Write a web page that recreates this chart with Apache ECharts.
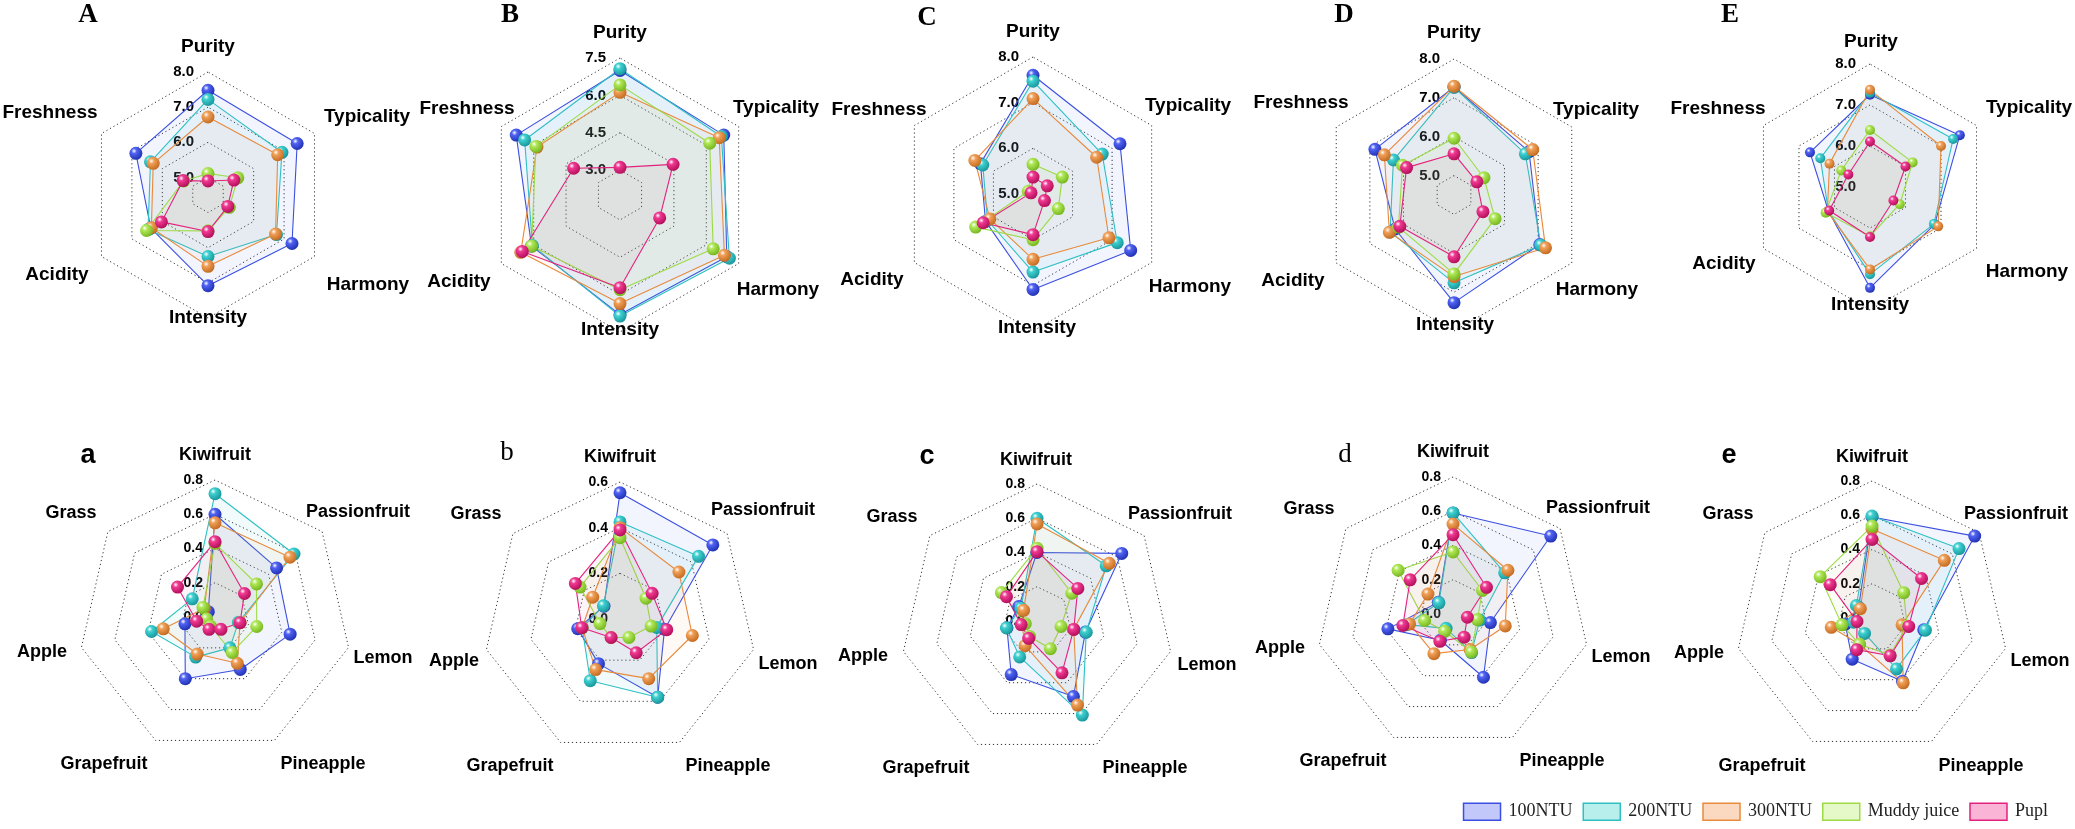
<!DOCTYPE html>
<html><head><meta charset="utf-8">
<script src="https://cdn.jsdelivr.net/npm/echarts@6/dist/echarts.min.js"></script>
<style>html,body{margin:0;padding:0;background:#fff}#c{width:2075px;height:829px}</style>
</head><body><div id="c"></div>
<script>
// ---------------- DATA ----------------
const groups = ['100NTU', '200NTU', '300NTU', 'Muddy juice', 'Pupl'];
const sensoryAttrs = ['Purity', 'Typicality', 'Harmony', 'Intensity', 'Acidity', 'Freshness'];
const aromaAttrs = ['Kiwifruit', 'Passionfruit', 'Lemon', 'Pineapple', 'Grapefruit', 'Apple', 'Grass'];
const panelLetters = ['A', 'B', 'C', 'D', 'E', 'a', 'b', 'c', 'd', 'e'];

// tick labels
const ticksA = [5.0, 6.0, 7.0, 8.0];
const ticksB = [3.0, 4.5, 6.0, 7.5];
const ticksC = [5.0, 6.0, 7.0, 8.0];
const ticksD = [5.0, 6.0, 7.0, 8.0];
const ticksE = [5.0, 6.0, 7.0, 8.0];
const ticks08 = [0.0, 0.2, 0.4, 0.6, 0.8];
const ticks06 = [0.0, 0.2, 0.4, 0.6];

// sensory scores, clockwise from Purity
const A_100 = [7.48, 7.43, 7.26, 7.08, 6.38, 6.87];
const A_200 = [7.22, 6.93, 6.75, 6.25, 6.47, 6.39];
const A_300 = [6.72, 6.79, 6.72, 6.53, 6.36, 6.30];
const A_mud = [5.11, 5.48, 5.20, 5.52, 6.52, 5.30];
const A_pupl = [4.90, 5.35, 5.15, 5.54, 6.03, 5.32];

const B_100 = [7.00, 6.81, 6.95, 6.80, 6.10, 6.81];
const B_200 = [7.07, 6.70, 7.07, 6.86, 6.06, 6.42];
const B_300 = [6.12, 6.60, 6.84, 6.36, 6.60, 5.85];
const B_mud = [6.42, 6.16, 6.32, 5.80, 6.10, 5.90];
const B_pupl = [3.11, 4.46, 3.84, 5.72, 6.53, 4.15];

const C_100 = [7.60, 7.20, 7.47, 7.09, 6.20, 6.33];
const C_200 = [7.47, 6.75, 7.13, 6.71, 6.15, 6.27];
const C_300 = [7.09, 6.61, 6.92, 6.43, 6.09, 6.47];
const C_mud = [5.65, 5.74, 5.64, 6.00, 6.45, 5.12];
const C_pupl = [5.37, 5.36, 5.29, 5.89, 6.26, 5.05];

const D_100 = [7.28, 6.73, 7.05, 7.27, 6.25, 6.85];
const D_200 = [7.27, 6.62, 7.08, 6.76, 6.40, 6.30];
const D_300 = [7.30, 6.84, 7.22, 6.60, 6.42, 6.57];
const D_mud = [5.96, 5.39, 5.72, 6.53, 6.15, 6.03];
const D_pupl = [5.56, 5.18, 5.36, 6.09, 6.11, 5.91];

const E_100 = [7.25, 7.53, 6.82, 7.46, 6.17, 6.69];
const E_200 = [7.30, 7.34, 6.80, 7.13, 6.17, 6.40];
const E_300 = [7.37, 7.00, 6.92, 7.01, 6.20, 6.14];
const E_mud = [6.39, 6.20, 5.84, 6.20, 6.25, 5.81];
const E_pupl = [6.11, 6.00, 5.66, 6.22, 6.15, 5.61];

// aroma intensities, clockwise from Kiwifruit
const a_100 = [0.60, 0.46, 0.45, 0.34, 0.40, 0.18, 0.05];
const a_200 = [0.72, 0.59, 0.14, 0.20, 0.26, 0.38, 0.17];
const a_300 = [0.55, 0.56, 0.15, 0.30, 0.24, 0.31, 0.08];
const a_mud = [0.43, 0.31, 0.25, 0.23, 0.06, 0.05, 0.09];
const a_pupl = [0.44, 0.22, 0.15, 0.08, 0.08, 0.11, 0.28];

const b_100 = [0.553, 0.52, 0.20, 0.38, 0.217, 0.19, 0.09];
const b_200 = [0.425, 0.44, 0.165, 0.38, 0.30, 0.17, 0.093];
const b_300 = [0.40, 0.33, 0.325, 0.29, 0.246, 0.17, 0.153];
const b_mud = [0.356, 0.146, 0.14, 0.09, 0.09, 0.09, 0.224];
const b_pupl = [0.39, 0.18, 0.21, 0.164, 0.09, 0.172, 0.25];

const c_100 = [0.40, 0.633, 0.29, 0.49, 0.347, 0.18, 0.136];
const c_200 = [0.60, 0.517, 0.295, 0.61, 0.233, 0.183, 0.12];
const c_300 = [0.567, 0.54, 0.22, 0.545, 0.16, 0.09, 0.10];
const c_mud = [0.425, 0.26, 0.144, 0.18, 0.10, 0.07, 0.266];
const c_pupl = [0.405, 0.305, 0.22, 0.336, 0.112, 0.095, 0.228];

const d_100 = [0.59, 0.73, 0.224, 0.41, 0.17, 0.39, 0.11];
const d_200 = [0.59, 0.386, 0.16, 0.25, 0.093, 0.28, 0.105];
const d_300 = [0.525, 0.41, 0.313, 0.23, 0.257, 0.26, 0.187];
const d_mud = [0.362, 0.22, 0.146, 0.246, 0.112, 0.17, 0.41];
const d_pupl = [0.463, 0.25, 0.086, 0.15, 0.177, 0.30, 0.32];

const e_100 = [0.59, 0.767, 0.31, 0.41, 0.267, 0.16, 0.10];
const e_200 = [0.595, 0.65, 0.32, 0.33, 0.10, 0.11, 0.117];
const e_300 = [0.52, 0.54, 0.18, 0.42, 0.17, 0.244, 0.087];
const e_mud = [0.537, 0.237, 0.21, 0.24, 0.17, 0.18, 0.387];
const e_pupl = [0.459, 0.37, 0.22, 0.245, 0.205, 0.09, 0.312];

// ---------------- STYLE / LAYOUT ----------------
const seriesStyle = [
  {base: '#5063f2', dark: '#1f2fb0', line: '#3b4fe0', area: 'rgba(90,110,235,0.10)', legend: '#c3c8fa'},
  {base: '#3fd0d0', dark: '#169499', line: '#2fc0c4', area: 'rgba(60,200,200,0.10)', legend: '#b8eeec'},
  {base: '#f0a058', dark: '#c2681e', line: '#e98a3c', area: 'rgba(240,150,80,0.08)', legend: '#fbd8c0'},
  {base: '#b0e858', dark: '#74b41c', line: '#9ddb45', area: 'rgba(160,220,80,0.08)', legend: '#e4f8c8'},
  {base: '#f03a92', dark: '#b00c58', line: '#e3227f', area: 'rgba(200,60,130,0.08)', legend: '#f9b4d6'}
];

const panels = [
  {attrs: sensoryAttrs, data: [A_100, A_200, A_300, A_mud, A_pupl], ticks: ticksA, min: 4.5, step: 0.5, center: [208, 195], radius: 123, sym: 13, font: 15, margin: 14, letter: [88, 15], serif: true, bold: true,
   names: [[208, 47], [367, 117], [368, 285], [208, 318], [57, 275], [50, 113]]},
  {attrs: sensoryAttrs, data: [B_100, B_200, B_300, B_mud, B_pupl], ticks: ticksB, min: 2.0, step: 0.5, center: [620, 195], radius: 137, sym: 13, font: 15, margin: 14, letter: [510, 15], serif: true, bold: true,
   names: [[620, 33], [776, 108], [778, 290], [620, 330], [459, 282], [467, 109]]},
  {attrs: sensoryAttrs, data: [C_100, C_200, C_300, C_mud, C_pupl], ticks: ticksC, min: 5.0, step: 1, center: [1033, 194], radius: 137, sym: 13, font: 15, margin: 14, letter: [927, 18], serif: true, bold: true,
   names: [[1033, 32], [1188, 106], [1190, 287], [1037, 328], [872, 280], [879, 110]]},
  {attrs: sensoryAttrs, data: [D_100, D_200, D_300, D_mud, D_pupl], ticks: ticksD, min: 4.5, step: 0.5, center: [1454, 195], radius: 136, sym: 13, font: 15, margin: 14, letter: [1344, 15], serif: true, bold: true,
   names: [[1454, 33], [1596, 110], [1597, 290], [1455, 325], [1293, 281], [1301, 103]]},
  {attrs: sensoryAttrs, data: [E_100, E_200, E_300, E_mud, E_pupl], ticks: ticksE, min: 5.0, step: 1, center: [1870, 187], radius: 123, sym: 10, font: 15, margin: 14, letter: [1730, 15], serif: true, bold: true,
   names: [[1871, 42], [2029, 108], [2027, 272], [1870, 305], [1724, 264], [1718, 109]]},
  {attrs: aromaAttrs, data: [a_100, a_200, a_300, a_mud, a_pupl], ticks: ticks08, min: 0, step: 0.2, center: [215, 617], radius: 137, sym: 13, font: 14, margin: 12, letter: [88, 456], serif: false, bold: true,
   names: [[215, 455], [358, 512], [383, 658], [323, 764], [104, 764], [42, 652], [71, 513]]},
  {attrs: aromaAttrs, data: [b_100, b_200, b_300, b_mud, b_pupl], ticks: ticks06, min: 0, step: 0.2, center: [620, 619], radius: 137, sym: 13, font: 14, margin: 12, letter: [507, 453], serif: true, bold: false,
   names: [[620, 457], [763, 510], [788, 664], [728, 766], [510, 766], [454, 661], [476, 514]]},
  {attrs: aromaAttrs, data: [c_100, c_200, c_300, c_mud, c_pupl], ticks: ticks08, min: 0, step: 0.2, center: [1037, 621], radius: 137, sym: 13, font: 14, margin: 12, letter: [927, 457], serif: false, bold: true,
   names: [[1036, 460], [1180, 514], [1207, 665], [1145, 768], [926, 768], [863, 656], [892, 517]]},
  {attrs: aromaAttrs, data: [d_100, d_200, d_300, d_mud, d_pupl], ticks: ticks08, min: 0, step: 0.2, center: [1453, 614], radius: 137, sym: 13, font: 14, margin: 12, letter: [1345, 455], serif: true, bold: false,
   names: [[1453, 452], [1598, 508], [1621, 657], [1562, 761], [1343, 761], [1280, 648], [1309, 509]]},
  {attrs: aromaAttrs, data: [e_100, e_200, e_300, e_mud, e_pupl], ticks: ticks08, min: 0, step: 0.2, center: [1872, 618], radius: 137, sym: 13, font: 14, margin: 12, letter: [1729, 456], serif: false, bold: true,
   names: [[1872, 457], [2016, 514], [2040, 661], [1981, 766], [1762, 766], [1699, 653], [1728, 514]]}
];

// ECharts lays out radar indicators counter-clockwise; reorder clockwise lists.
const ccw = a => [a[0]].concat(a.slice(1).reverse());
const near = (list, v) => list.some(t => Math.abs(t - v) < 1e-6);
const GRID = '#333333';

const radars = [];
const series = [];
const graphics = [];

panels.forEach((p, pi) => {
  const max = p.ticks[p.ticks.length - 1];
  const split = Math.round((max - p.min) / p.step);
  const lineColors = [];
  for (let i = 0; i <= split; i++) {
    const v = p.min + i * p.step;
    lineColors.push(near(p.ticks, v) && i > 0 ? GRID : 'rgba(0,0,0,0)');
  }
  const ticks = p.ticks;
  const inds = ccw(p.attrs).map((n, k) => {
    const o = {name: n, min: p.min, max: max};
    if (k === 0) {
      o.axisLabel = {
        show: true, margin: p.margin, color: '#000', fontWeight: 'bold', fontSize: p.font,
        fontFamily: 'Liberation Sans, Arial, sans-serif',
        formatter: v => near(ticks, v) ? Number(v).toFixed(1) : ''
      };
    }
    return o;
  });
  radars.push({
    center: p.center, radius: p.radius, startAngle: 90, shape: 'polygon', splitNumber: split,
    indicator: inds,
    axisName: {show: false},
    axisLine: {show: false}, axisTick: {show: false},
    axisLabel: {show: false},
    splitArea: {show: false},
    splitLine: {show: true, lineStyle: {color: lineColors, width: 1, type: [1.2, 2.8]}}
  });
  series.push({
    type: 'radar', radarIndex: pi, symbol: 'circle', silent: true,
    emphasis: {disabled: true},
    data: p.data.map((arr, k) => {
      const s = seriesStyle[k];
      return {
        name: groups[k], value: ccw(arr), symbolSize: p.sym,
        itemStyle: {color: {type: 'radial', x: 0.36, y: 0.32, r: 0.72, colorStops: [
          {offset: 0, color: '#ffffff'}, {offset: 0.28, color: s.base}, {offset: 1, color: s.dark}]}},
        lineStyle: {color: s.line, width: 1.1},
        areaStyle: {color: s.area}
      };
    })
  });
  p.attrs.forEach((n, k) => {
    graphics.push({type: 'text', x: p.names[k][0], y: p.names[k][1], silent: true,
      style: {text: n, fill: '#000', fontSize: pi < 5 ? 19 : 18, fontWeight: 'bold',
        fontFamily: 'Liberation Sans, Arial, sans-serif', align: 'center', verticalAlign: 'middle'}});
  });
  graphics.push({type: 'text', x: p.letter[0], y: p.letter[1], silent: true,
    style: {text: panelLetters[pi], fill: '#000', fontSize: pi < 5 ? 27 : 27,
      fontWeight: p.bold ? 'bold' : 'normal',
      fontFamily: p.serif ? 'Liberation Serif, Times New Roman, serif' : 'Liberation Sans, Arial, sans-serif',
      align: 'center', verticalAlign: 'middle'}});
});

const chart = echarts.init(document.getElementById('c'), null, {renderer: 'canvas'});
chart.setOption({
  backgroundColor: '#ffffff',
  animation: false,
  legend: {
    data: groups.map((g, i) => ({name: g, icon: 'rect',
      itemStyle: {color: seriesStyle[i].legend, borderColor: seriesStyle[i].line, borderWidth: 1.5}})),
    right: 22, bottom: 3, itemWidth: 37, itemHeight: 17, itemGap: 10, selectedMode: false,
    textStyle: {fontFamily: 'Liberation Serif, Times New Roman, serif', fontSize: 18, color: '#222', padding: [0, 0, 0, 3]}
  },
  radar: radars,
  series: series,
  graphic: graphics
});
</script></body></html>
